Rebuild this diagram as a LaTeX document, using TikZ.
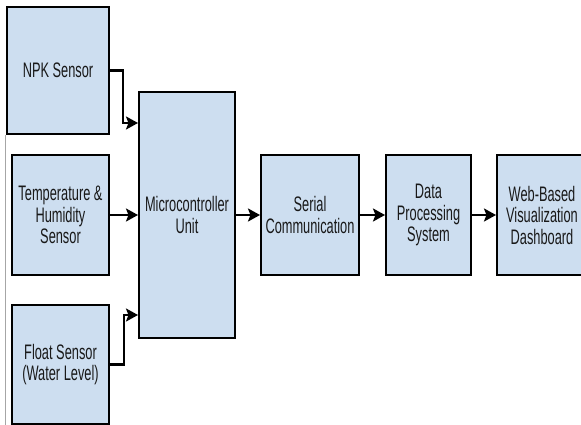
\documentclass[tikz,border=0pt]{standalone}
\usepackage{fontspec}
\newfontfamily\boxfont[FakeStretch=0.61]{Liberation Sans}
\usepackage{tikz}
\usetikzlibrary{arrows.meta, positioning}

\definecolor{boxblue}{RGB}{205,222,240}

\begin{document}
\begin{tikzpicture}[x=1pt, y=1pt,
        % Block nodes: thick black border, light blue fill
        block/.style={rectangle, draw=black, line width=2pt, fill=boxblue,
            align=center, inner sep=0pt,
            font=\boxfont\fontsize{21}{21.5}\selectfont, text=black!90},
        % Connectors: thick line, filled tip
        arr/.style={draw=black, line width=2.2pt,
            -{Stealth[length=12pt, width=13pt, inset=2.5pt]}},
        ]

        \useasboundingbox (0,0) rectangle (581,-425);

        % Column x-coordinates
        \def\colA{60.5}
        \def\colB{187}
        \def\colC{310}
        \def\colD{428.5}
        \def\colE{542}
        % Row y-coordinates
        \def\rowA{-70.5}
        \def\rowB{-215}
        \def\rowC{-364.5}

        % === Left column: sensors ===
        \node[block, minimum width=102pt, minimum height=127pt] (npk) at (58,\rowA) {NPK Sensor};
        \node[block, minimum width=97pt, minimum height=120pt] (temp) at (\colA,\rowB) {Temperature \&\\Humidity\\Sensor};
        \node[block, minimum width=97pt, minimum height=119pt] (float) at (\colA,\rowC) {Float Sensor\\(Water Level)};

        % === Processing chain ===
        \node[block, minimum width=96pt, minimum height=246pt] (mcu) at (\colB,\rowB) {Microcontroller\\Unit};
        \node[block, minimum width=98pt, minimum height=119pt] (serial) at (\colC,\rowB) {Serial\\Communication};
        \node[block, minimum width=85pt, minimum height=119pt] (data) at (\colD,\rowB) {Data\\Processing\\System};
        \node[block, minimum width=90pt, minimum height=119pt] (web) at (\colE,\rowB) {Web-Based\\Visualization\\Dashboard};

        % page edge line
        \draw[black!35, line width=0.7pt] (5,-135) -- (5,-425);

        % === Connectors ===
        \draw[arr] (npk.east) -- ++(13,0) |- ([yshift=92pt]mcu.west);
        \draw[arr] (temp) -- (mcu);
        \draw[arr] (float.east) -- ++(14,0) |- ([yshift=-100pt]mcu.west);
        \draw[arr] (mcu) -- (serial);
        \draw[arr] (serial) -- (data);
        \draw[arr] (data) -- (web);

    \end{tikzpicture}
\end{document}
